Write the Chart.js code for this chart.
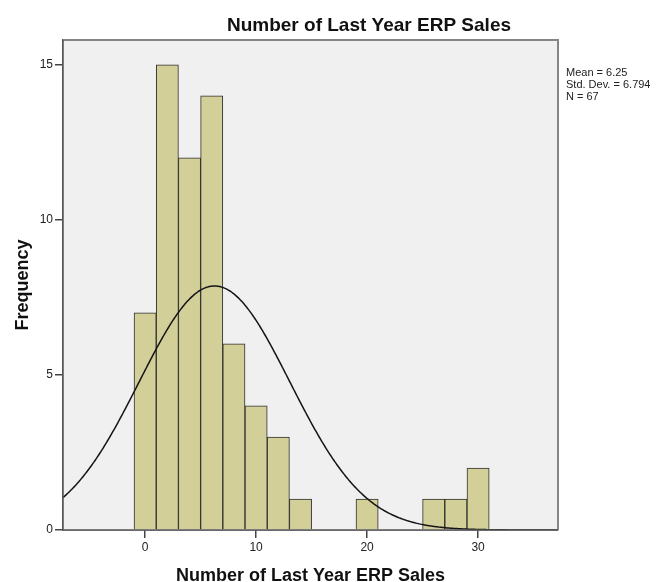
<!DOCTYPE html>
<html>
<head>
<meta charset="utf-8">
<script src="https://cdn.jsdelivr.net/npm/chart.js@4/dist/chart.umd.min.js"></script>
<style>
  html, body { margin: 0; padding: 0; background: #ffffff; }
  #wrap { width: 665px; height: 582px; }
</style>
</head>
<body>
<div id="wrap"><canvas id="c" width="665" height="582"></canvas></div>
<script>
// Histogram bins (width 2) and their frequencies
const binCenters = [0, 2, 4, 6, 8, 10, 12, 14, 20, 26, 28, 30];
const binCounts  = [7, 15, 12, 14, 6, 4, 3, 1, 1, 1, 1, 2];
const BIN_WIDTH = 2;

// Summary statistics shown beside the plot
const MEAN = 6.25;
const SD = 6.794;
const N = 67;
const statLines = ['Mean = 6.25', 'Std. Dev. = 6.794', 'N = 67'];

// Axis ticks and ranges
const xTickValues = [0, 10, 20, 30];
const yTickValues = [0, 5, 10, 15];
const X_MIN = -7.4, X_MAX = 37.2, Y_MAX = 15.8;

const chartTitle = 'Number of Last Year ERP Sales';
const xTitle = 'Number of Last Year ERP Sales';
const yTitle = 'Frequency';

const FONT = "'Liberation Sans', Arial, sans-serif";

// Fitted normal curve, scaled to counts per bin
const curve = [];
const peak = N * BIN_WIDTH / (SD * Math.sqrt(2 * Math.PI));
for (let i = 0; i <= 446; i++) {
  const x = X_MIN + i * (X_MAX - X_MIN) / 446;
  const z = (x - MEAN) / SD;
  curve.push({ x: x, y: peak * Math.exp(-0.5 * z * z) });
}

const bars = binCenters.map((c, i) => ({ x: c, y: binCounts[i] }));

const frame = {
  id: 'frame',
  beforeDatasetsDraw(chart) {
    const { ctx, chartArea: a } = chart;
    ctx.save();
    ctx.fillStyle = '#f0f0f0';
    ctx.fillRect(a.left, a.top, a.right - a.left, a.bottom - a.top);
    ctx.restore();
  },
  afterDraw(chart) {
    const { ctx, chartArea: a } = chart;
    ctx.save();
    ctx.strokeStyle = '#858585';
    ctx.lineWidth = 2;
    ctx.beginPath();
    ctx.moveTo(a.left, a.top);
    ctx.lineTo(a.right, a.top);
    ctx.lineTo(a.right, a.bottom);
    ctx.stroke();
    ctx.strokeStyle = '#555555';
    ctx.lineWidth = 1.5;
    ctx.beginPath();
    ctx.moveTo(a.left, a.top);
    ctx.lineTo(a.left, a.bottom);
    ctx.lineTo(a.right, a.bottom);
    ctx.stroke();

    ctx.fillStyle = '#111111';
    ctx.font = 'bold 19px ' + FONT;
    ctx.textAlign = 'center';
    ctx.textBaseline = 'middle';
    ctx.fillText(chartTitle, 369, 26);

    ctx.font = '11px ' + FONT;
    ctx.textAlign = 'left';
    ctx.fillStyle = '#222222';
    statLines.forEach((t, i) => ctx.fillText(t, 566, 73 + i * 11.8));
    ctx.restore();
  }
};

new Chart(document.getElementById('c'), {
  data: {
    datasets: [
      {
        type: 'line',
        data: curve,
        borderColor: '#151515',
        borderWidth: 1.5,
        pointRadius: 0,
        tension: 0,
        fill: false
      },
      {
        type: 'bar',
        data: bars,
        backgroundColor: '#d3cf98',
        borderColor: '#2e2e2e',
        borderWidth: 1,
        barPercentage: 1,
        categoryPercentage: 1
      }
    ]
  },
  options: {
    responsive: false,
    animation: false,
    devicePixelRatio: 1,
    layout: { padding: { left: 0, right: 107, top: 40, bottom: 0 } },
    plugins: { legend: { display: false }, tooltip: { enabled: false } },
    scales: {
      x: {
        type: 'linear',
        min: X_MIN,
        max: X_MAX,
        offset: false,
        afterBuildTicks: s => { s.ticks = xTickValues.map(v => ({ value: v })); },
        afterFit: s => { s.height = 52; },
        grid: { offset: false, drawOnChartArea: false, drawTicks: true, tickLength: 8, color: '#444', lineWidth: 1.5 },
        border: { display: true, color: '#555', width: 1.5 },
        ticks: { color: '#222', font: { family: FONT, size: 12 }, padding: 2, maxRotation: 0 },
        title: {
          display: true, text: xTitle, color: '#111',
          font: { family: FONT, size: 18, weight: 'bold', lineHeight: '12px' },
          padding: { top: 0, bottom: 0 }
        }
      },
      y: {
        type: 'linear',
        min: 0,
        max: Y_MAX,
        afterBuildTicks: s => { s.ticks = yTickValues.map(v => ({ value: v })); },
        afterFit: s => { s.width = 63; },
        grid: { drawOnChartArea: false, drawTicks: true, tickLength: 8, color: '#444', lineWidth: 1.5 },
        border: { display: true, color: '#555', width: 1.5 },
        ticks: { color: '#222', font: { family: FONT, size: 12 }, padding: 2 },
        title: {
          display: true, text: yTitle, color: '#111',
          font: { family: FONT, size: 18, weight: 'bold', lineHeight: 1.2 },
          padding: { top: 12, bottom: 0 }
        }
      }
    }
  },
  plugins: [frame]
});
</script>
</body>
</html>
